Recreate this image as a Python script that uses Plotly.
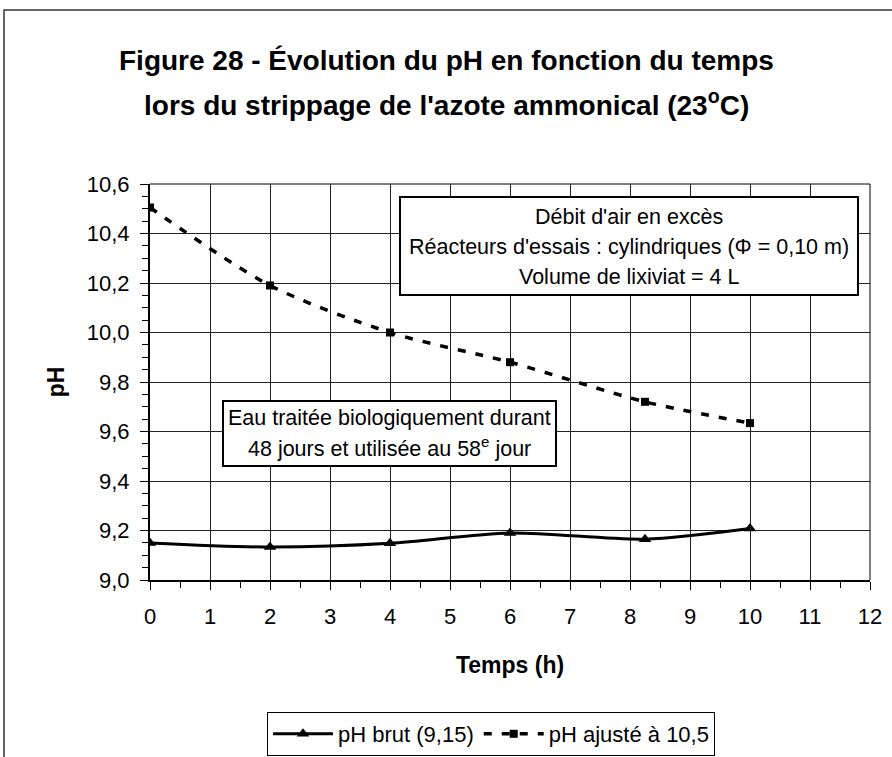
import plotly.graph_objects as go

# ---- data ----
temps_h = [0, 2, 4, 6, 8.25, 10]
ph_brut = [9.15, 9.133, 9.148, 9.19, 9.165, 9.208]
ph_ajuste = [10.505, 10.19, 10.0, 9.88, 9.72, 9.634]

series_names = ["pH brut (9,15)", "pH ajusté à 10,5"]
y_tickvals = [9.0, 9.2, 9.4, 9.6, 9.8, 10.0, 10.2, 10.4, 10.6]
y_ticktext = ["9,0", "9,2", "9,4", "9,6", "9,8", "10,0", "10,2", "10,4", "10,6"]

title_lines = ["Figure 28 - Évolution du pH en fonction du temps",
               "lors du strippage de l'azote ammonical (23<sup>o</sup>C)"]
box1_lines = ["Débit d'air en excès",
              "Réacteurs d'essais : cylindriques (Φ = 0,10 m)",
              "Volume de lixiviat = 4 L"]
box2_lines = ["Eau traitée biologiquement durant",
              "48 jours et utilisée au 58<sup>e</sup> jour"]

W, H = 892, 757
ML, MR, MT, MB = 150, 22, 184, 177
PW, PH = W - ML - MR, H - MT - MB


def px_x(p):
    return (p - ML) / PW


def px_y(p):
    return (H - MB - p) / PH


FONT = "Liberation Sans, Arial, sans-serif"

fig = go.Figure()
fig.add_trace(go.Scatter(
    x=temps_h, y=ph_brut, name=series_names[0], mode="lines+markers",
    line=dict(color="black", width=3, shape="spline", smoothing=0.8),
    marker=dict(symbol="triangle-up", size=11, color="black"),
))
fig.add_trace(go.Scatter(
    x=temps_h, y=ph_ajuste, name=series_names[1], mode="lines+markers",
    line=dict(color="black", width=3.5, dash="8px,10px", shape="spline", smoothing=0.8),
    marker=dict(symbol="square", size=8, color="black"),
))

fig.update_layout(
    width=W, height=H,
    margin=dict(l=ML, r=MR, t=MT, b=MB, autoexpand=False),
    paper_bgcolor="white", plot_bgcolor="white",
    font=dict(family=FONT, color="black", size=22),
    showlegend=True,
    legend=dict(orientation="h", x=px_x(491), xanchor="center",
                y=px_y(712), yanchor="top",
                bordercolor="black", borderwidth=1,
                font=dict(size=22, family=FONT),
                bgcolor="white", itemwidth=60),
    xaxis=dict(range=[0, 12], dtick=1, tick0=0, automargin=False,
               showgrid=True, gridcolor="#222", gridwidth=1,
               ticks="outside", ticklen=8, tickwidth=1, tickcolor="black",
               ticklabelstandoff=8,
               minor=dict(dtick=0.5, ticks="outside", ticklen=6, tickcolor="black", showgrid=False),
               showline=True, linecolor="black", linewidth=2,
               tickfont=dict(size=22),
               title=dict(text="<b>Temps (h)</b>", font=dict(size=23), standoff=28),
               zeroline=False),
    yaxis=dict(range=[9.0, 10.6], tickvals=y_tickvals, ticktext=y_ticktext, automargin=False,
               showgrid=True, gridcolor="#222", gridwidth=1,
               ticks="outside", ticklen=8, tickwidth=1, tickcolor="black",
               ticklabelstandoff=6,
               minor=dict(dtick=0.05, tick0=9.0, ticks="outside", ticklen=6, tickcolor="black", showgrid=False),
               showline=True, linecolor="black", linewidth=2,
               tickfont=dict(size=22),
               title=dict(text="<b>pH</b>", font=dict(size=23), standoff=16),
               zeroline=False),
)

shapes = []
# plot frame (top/right)
shapes.append(dict(type="line", xref="paper", yref="paper", x0=0, x1=1, y0=1, y1=1,
                   line=dict(color="black", width=1), layer="above"))
shapes.append(dict(type="line", xref="paper", yref="paper", x0=1, x1=1, y0=0, y1=1,
                   line=dict(color="black", width=1), layer="above"))
# outer chart border
shapes.append(dict(type="rect", xref="paper", yref="paper",
                   x0=px_x(4), x1=px_x(900), y0=px_y(10), y1=px_y(770),
                   line=dict(color="#333", width=1.5), layer="below"))
# info boxes
shapes.append(dict(type="rect", xref="paper", yref="paper",
                   x0=px_x(400), x1=px_x(858), y0=px_y(197), y1=px_y(295),
                   line=dict(color="black", width=2), fillcolor="white", layer="above"))
shapes.append(dict(type="rect", xref="paper", yref="paper",
                   x0=px_x(223), x1=px_x(556), y0=px_y(401), y1=px_y(466),
                   line=dict(color="black", width=2), fillcolor="white", layer="above"))

annotations = []
for txt, py in zip(title_lines, [60, 103]):
    annotations.append(dict(text="<b>" + txt + "</b>", xref="paper", yref="paper",
                            x=px_x(446), y=px_y(py), xanchor="center", yanchor="middle",
                            showarrow=False, font=dict(size=28, family=FONT)))
for txt, py in zip(box1_lines, [217, 247, 277]):
    annotations.append(dict(text=txt, xref="paper", yref="paper",
                            x=px_x(629), y=px_y(py), xanchor="center", yanchor="middle",
                            showarrow=False, font=dict(size=21.5, family=FONT)))
for txt, py in zip(box2_lines, [418, 447]):
    annotations.append(dict(text=txt, xref="paper", yref="paper",
                            x=px_x(389.5), y=px_y(py), xanchor="center", yanchor="middle",
                            showarrow=False, font=dict(size=21.5, family=FONT)))

fig.update_layout(shapes=shapes, annotations=annotations)
fig.write_html("out.html")
